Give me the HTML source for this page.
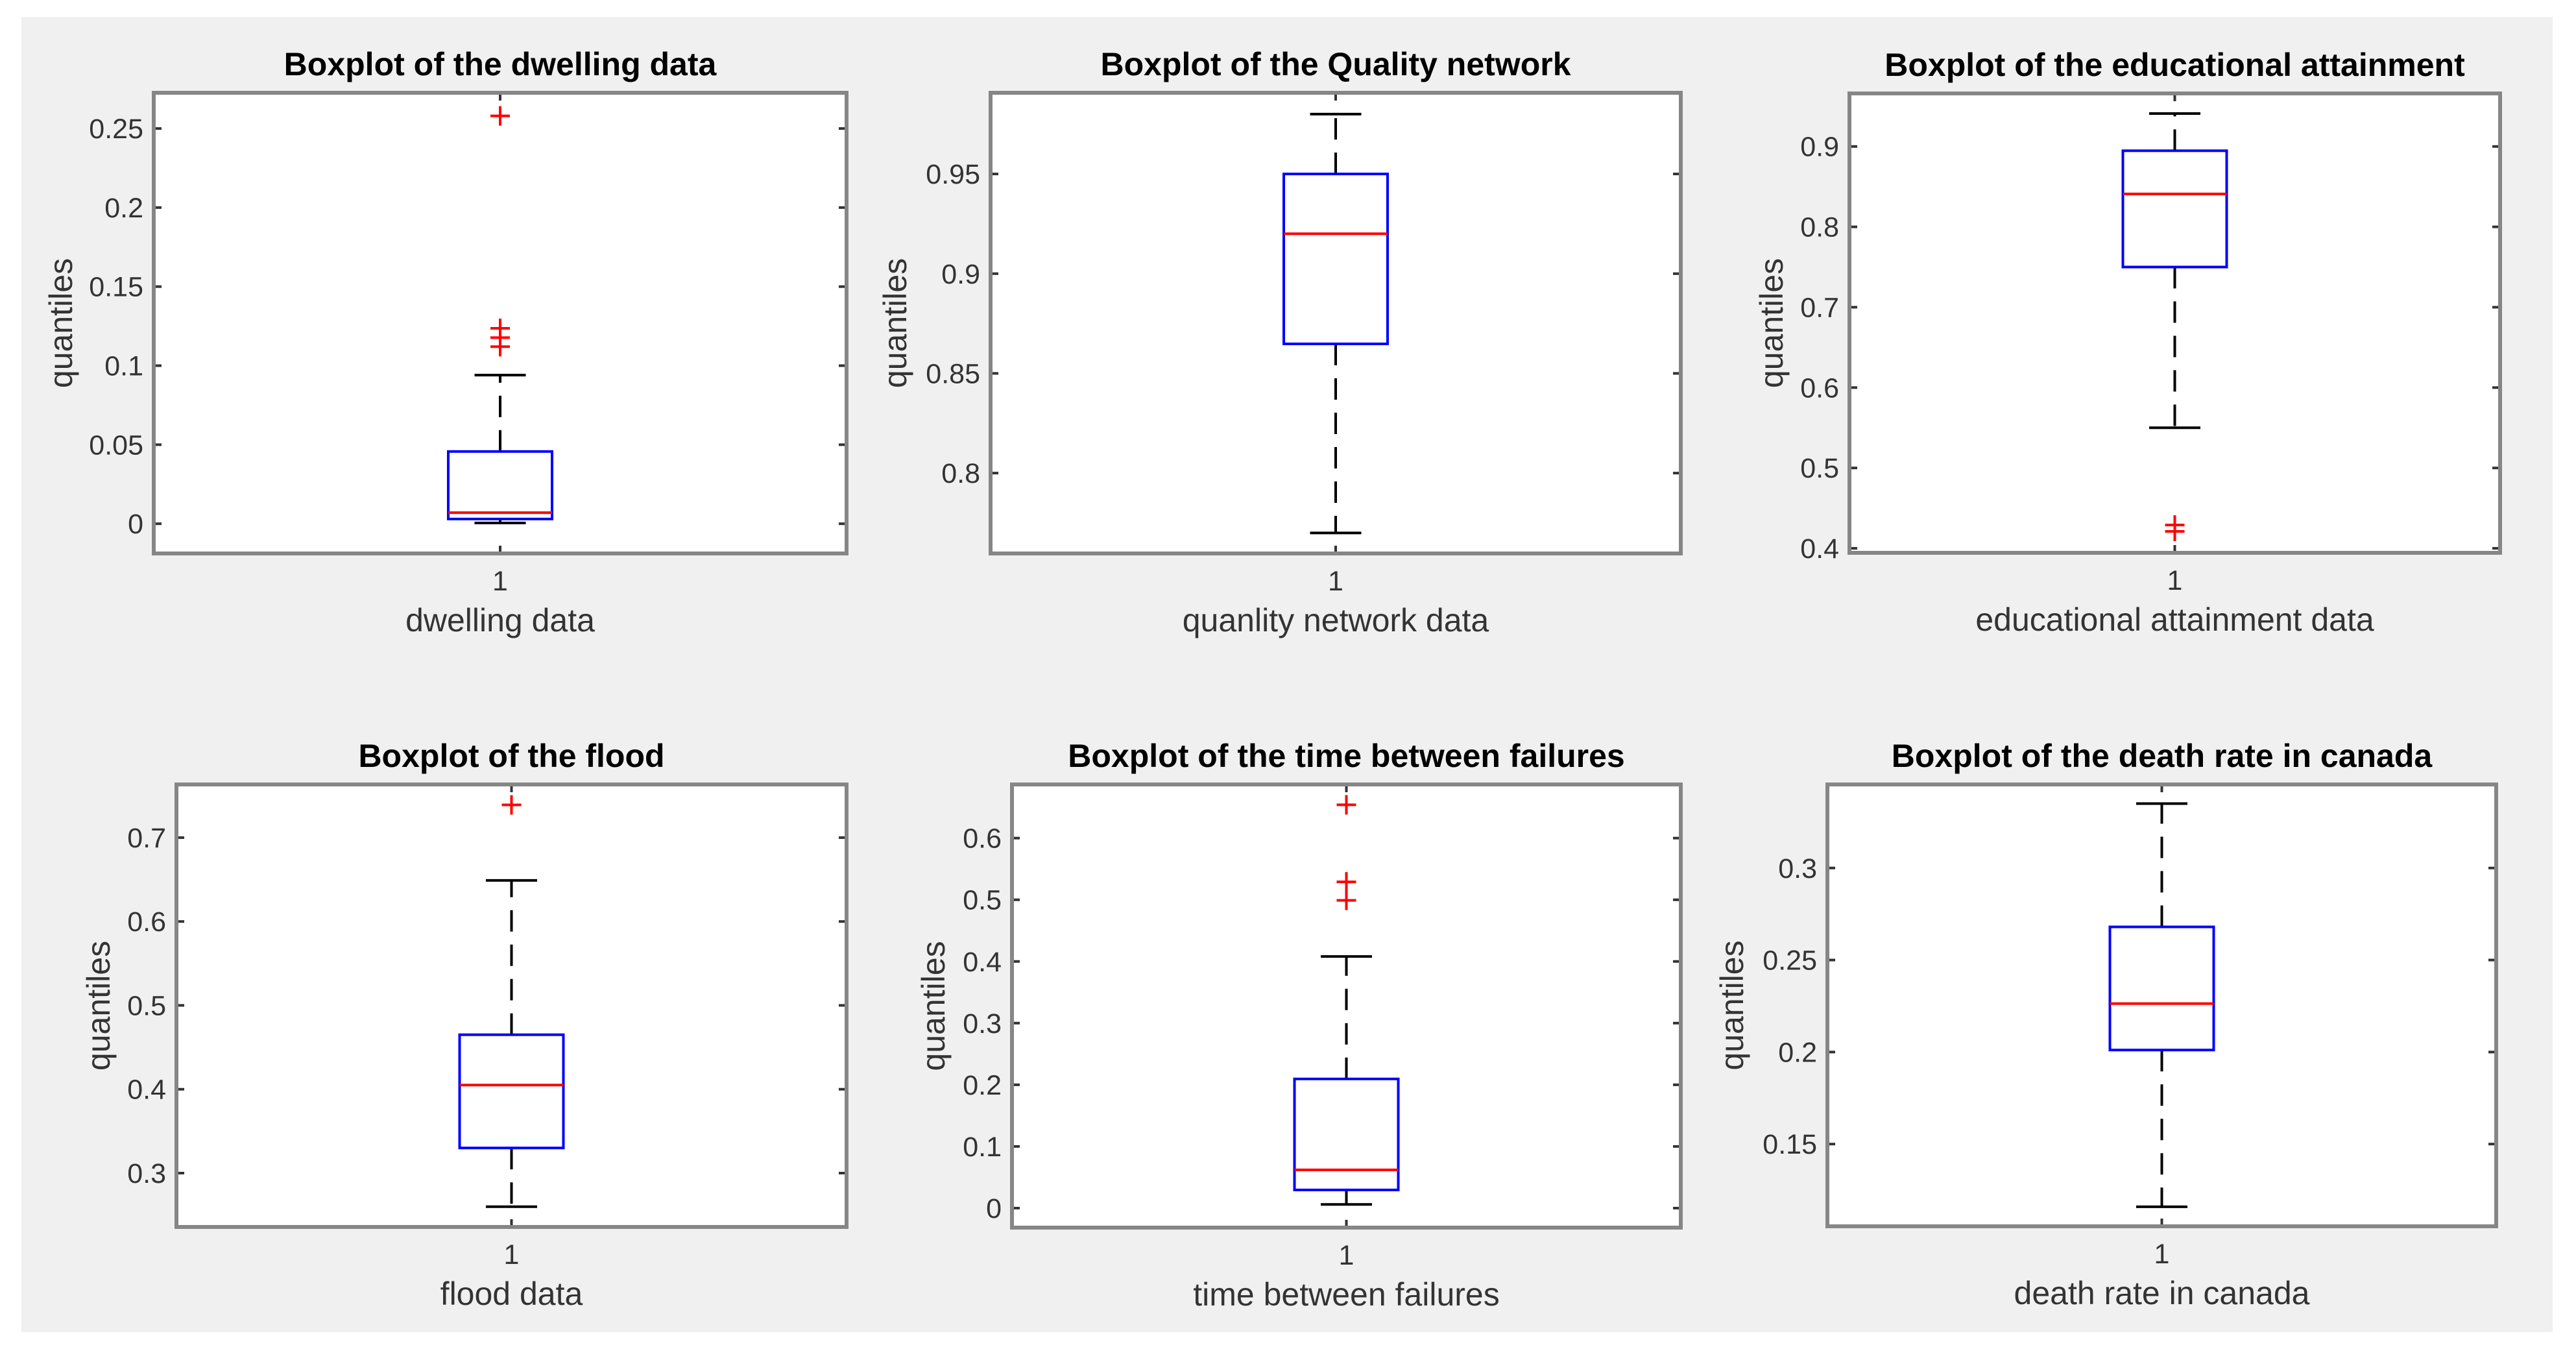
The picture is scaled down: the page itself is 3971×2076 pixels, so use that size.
<!DOCTYPE html>
<html><head><meta charset="utf-8"><style>
html,body{margin:0;padding:0;background:#fff;}
svg{display:block;}
text{font-family:"Liberation Sans",Arial,sans-serif;}
</style></head><body>
<svg id="fig" width="3971" height="2076" viewBox="0 0 3971 2076" xmlns="http://www.w3.org/2000/svg">
<rect x="33" y="26" width="3902" height="2027" fill="#f0f0f0"/>
</svg>
<script>
// ---- data ----
const titles = ["Boxplot of the dwelling data","Boxplot of the Quality network","Boxplot of the educational attainment","Boxplot of the flood","Boxplot of the time between failures","Boxplot of the death rate in canada"];
const xLabels = ["dwelling data","quanlity network data","educational attainment data","flood data","time between failures","death rate in canada"];
const lowerWhisker = [0.0005, 0.770, 0.550, 0.260, 0.006, 0.1159];
const q1Values     = [0.003, 0.8648, 0.750, 0.330, 0.0295, 0.2011];
const medianValues = [0.007, 0.920, 0.841, 0.405, 0.062, 0.2263];
const q3Values     = [0.0457, 0.950, 0.8947, 0.465, 0.2095, 0.268];
const upperWhisker = [0.094, 0.980, 0.941, 0.649, 0.408, 0.335];
const outliers = [[0.258,0.1236,0.1177,0.112],[],[0.429,0.421],[0.739],[0.654,0.529,0.499],[]];
const yMin = [-0.0188, 0.7597, 0.3944, 0.2358, -0.0316, 0.1053];
const yMax = [0.2726, 0.9907, 0.966, 0.7634, 0.687, 0.3454];
const yTickLabels = [["0","0.05","0.1","0.15","0.2","0.25"],["0.8","0.85","0.9","0.95"],["0.4","0.5","0.6","0.7","0.8","0.9"],["0.3","0.4","0.5","0.6","0.7"],["0","0.1","0.2","0.3","0.4","0.5","0.6"],["0.15","0.2","0.25","0.3"]];
const xTickLabels = ["1"];

// ---- layout ----
const axesBox = [[237,143,1305,853],[1527,143,2591,853],[2851,144,3854,852],[272,1209,1305,1891],[1560,1209,2591,1892],[2817,1209,3848,1890]];
const ylabelX = [94,1380,2731,152,1439,2670];
const NS="http://www.w3.org/2000/svg";
const svg=document.getElementById('fig');
function mk(tag,attrs,parent){const e=document.createElementNS(NS,tag);for(const k in attrs)e.setAttribute(k,attrs[k]);(parent||svg).appendChild(e);return e;}

for(let i=0;i<6;i++){
  const [L,T,R,B]=axesBox[i];
  const g=mk('g',{});
  
  
  const y=v=>B-(v-yMin[i])/(yMax[i]-yMin[i])*(B-T);
  const cx=(L+R)/2;
  const bw=160, cw=79;
  const plot=mk('rect',{x:L,y:T,width:R-L,height:B-T,fill:'#fff'},g);
  
  
  // ticks
  yTickLabels[i].forEach(t=>{
    const v=parseFloat(t), yy=y(v);
    mk('line',{x1:L,y1:yy,x2:L+12,y2:yy,stroke:'#333','stroke-width':4},g);
    mk('line',{x1:R,y1:yy,x2:R-12,y2:yy,stroke:'#333','stroke-width':4},g);
    const tx=mk('text',{x:L-16,y:yy+15,'text-anchor':'end','font-size':43,fill:'#333'},g);
    tx.textContent=t;
    
    
  });
  mk('line',{x1:cx,y1:B,x2:cx,y2:B-12,stroke:'#333','stroke-width':4},g);
  mk('line',{x1:cx,y1:T,x2:cx,y2:T+12,stroke:'#333','stroke-width':4},g);
  const xt=mk('text',{x:cx,y:B+57,'text-anchor':'middle','font-size':43,fill:'#333'},g);
  xt.textContent=xTickLabels[0];
  
  
  // whiskers
  const wu=mk('line',{x1:cx,y1:y(q3Values[i]),x2:cx,y2:y(upperWhisker[i]),stroke:'#000','stroke-width':4,'stroke-dasharray':'33,20'},g);
  
  
  const wl=mk('line',{x1:cx,y1:y(q1Values[i]),x2:cx,y2:y(lowerWhisker[i]),stroke:'#000','stroke-width':4,'stroke-dasharray':'33,20'},g);
  
  
  const cu=mk('line',{x1:cx-cw/2,y1:y(upperWhisker[i]),x2:cx+cw/2,y2:y(upperWhisker[i]),stroke:'#000','stroke-width':4},g);
  
  
  const cl=mk('line',{x1:cx-cw/2,y1:y(lowerWhisker[i]),x2:cx+cw/2,y2:y(lowerWhisker[i]),stroke:'#000','stroke-width':4},g);
  
  
  // box
  const bx=mk('rect',{x:cx-bw/2,y:y(q3Values[i]),width:bw,height:y(q1Values[i])-y(q3Values[i]),fill:'none',stroke:'#0000ff','stroke-width':4},g);
  
  
  const md=mk('line',{x1:cx-bw/2,y1:y(medianValues[i]),x2:cx+bw/2,y2:y(medianValues[i]),stroke:'#ff0000','stroke-width':4},g);
  
  
  // outliers
  outliers[i].forEach(v=>{
    const yy=y(v);
    const o=mk('path',{d:`M${cx-15},${yy}H${cx+15}M${cx},${yy-15}V${yy+15}`,stroke:'#ff0000','stroke-width':4,fill:'none'},g);
    
    
  });
  // frame
  const fr=mk('rect',{x:L,y:T,width:R-L,height:B-T,fill:'none',stroke:'#868686','stroke-width':6},g);
  
  
  // labels
  const ti=mk('text',{x:cx,y:T-27,'text-anchor':'middle','font-size':50,'font-weight':'bold',fill:'#000'},g);
  ti.textContent=titles[i];
  
  
  const xl=mk('text',{x:cx,y:B+120,'text-anchor':'middle','font-size':50,fill:'#333'},g);
  xl.textContent=xLabels[i];
  
  
  const yc=(T+B)/2;
  const yl=mk('text',{x:ylabelX[i]+17,y:yc,'text-anchor':'middle','font-size':50,fill:'#333',transform:`rotate(-90 ${ylabelX[i]+17} ${yc})`},g);
  yl.textContent='quantiles';
  
  
}
</script>
</body></html>
